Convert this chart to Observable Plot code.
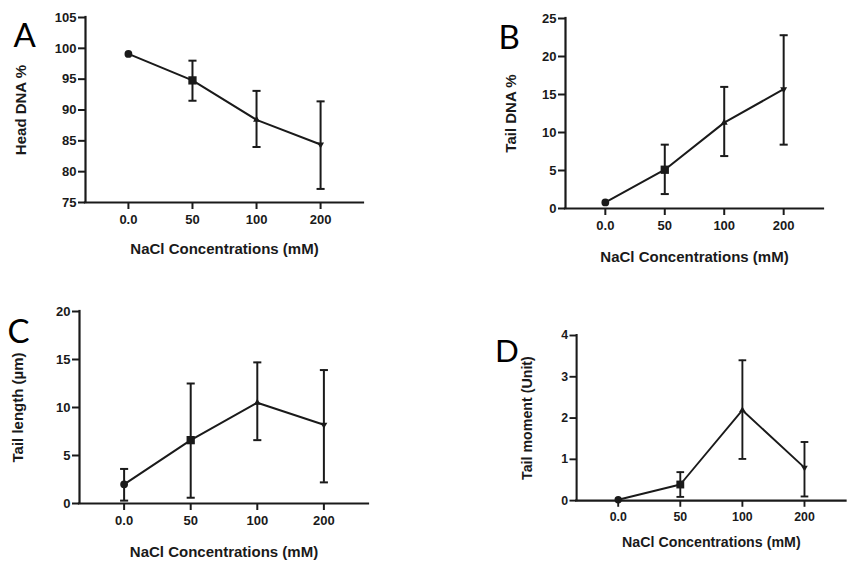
<!DOCTYPE html>
<html><head><meta charset="utf-8">
<script src="https://cdn.jsdelivr.net/npm/d3@7"></script>
<script src="https://cdn.jsdelivr.net/npm/@observablehq/plot@0.6"></script>
<style>
html,body{margin:0;padding:0;background:#fff;}
#fig{position:relative;width:857px;height:562px;overflow:hidden;background:#fff;}
.panel{position:absolute;}
.panel svg{overflow:visible;}
</style></head><body><div id="fig"></div>
<script>
// ---- data ----
const categories = ["0.0", "50", "100", "200"];
const xLabel = "NaCl Concentrations (mM)";

const headDNA     = [99.1, 94.8, 88.4, 84.4];
const headDNALow  = [null, 91.5, 84.0, 77.2];
const headDNAHigh = [null, 98.0, 93.1, 91.4];
const headTicks   = [75, 80, 85, 90, 95, 100, 105];

const tailDNA     = [0.8, 5.1, 11.3, 15.7];
const tailDNALow  = [null, 1.9, 6.9, 8.4];
const tailDNAHigh = [null, 8.4, 16.0, 22.8];
const tailDNATicks = [0, 5, 10, 15, 20, 25];

const tailLength     = [2.0, 6.6, 10.5, 8.2];
const tailLengthLow  = [0.3, 0.6, 6.6, 2.2];
const tailLengthHigh = [3.6, 12.5, 14.7, 13.9];
const tailLengthTicks = [0, 5, 10, 15, 20];

const tailMoment     = [0.02, 0.39, 2.19, 0.80];
const tailMomentLow  = [null, 0.09, 1.01, 0.10];
const tailMomentHigh = [null, 0.69, 3.40, 1.42];
const tailMomentTicks = [0, 1, 2, 3, 4];

// ---- symbols ----
const sq = {draw(ctx, size) { const w = Math.sqrt(size) * 0.6; ctx.rect(-w, -w, 2 * w, 2 * w); }};
const triUp = {draw(ctx, size) { const s = Math.sqrt(size) * 0.58;
  ctx.moveTo(0, -s); ctx.lineTo(s * 0.866, s * 0.5); ctx.lineTo(-s * 0.866, s * 0.5); ctx.closePath(); }};
const triDown = {draw(ctx, size) { const s = Math.sqrt(size) * 0.58;
  ctx.moveTo(0, s); ctx.lineTo(s * 0.866, -s * 0.5); ctx.lineTo(-s * 0.866, -s * 0.5); ctx.closePath(); }};
const cap = {draw(ctx, size) { const w = Math.sqrt(size) * 0.6; ctx.moveTo(-w, 0); ctx.lineTo(w, 0); }};

const ink = "#1a1a1a";
const font = "'Liberation Sans', Arial, sans-serif";
const xDomain = [-0.67, 3.67];

const panels = [
  {letter: "A", yLabel: "Head DNA %", mean: headDNA, low: headDNALow, high: headDNAHigh, ticks: headTicks,
   left: 0, top: 0, width: 430, height: 280, mt: 17, mr: 67, mb: 78, ml: 85, ldx: -72, ldy: 29, ylo: 70, xlo: 51},
  {letter: "B", yLabel: "Tail DNA %", mean: tailDNA, low: tailDNALow, high: tailDNAHigh, ticks: tailDNATicks,
   left: 430, top: 0, width: 427, height: 280, mt: 18, mr: 34, mb: 72, ml: 135, ldx: -67, ldy: 30, ylo: 60, xlo: 53},
  {letter: "C", yLabel: "Tail length (µm)", mean: tailLength, low: tailLengthLow, high: tailLengthHigh, ticks: tailLengthTicks,
   left: 0, top: 280, width: 430, height: 282, mt: 31, mr: 62, mb: 59, ml: 79, ldx: -72, ldy: 31, ylo: 67, xlo: 53},
  {letter: "D", yLabel: "Tail moment (Unit)", mean: tailMoment, low: tailMomentLow, high: tailMomentHigh, ticks: tailMomentTicks,
   left: 430, top: 280, width: 450, height: 282, mt: 58, mr: 12, mb: 50, ml: 154, ldx: -86, ldy: 28, ylo: 58, xlo: 49}
];

const fig = document.getElementById("fig");
for (const p of panels) {
  const rows = categories.map((c, i) => ({i, cat: c, mean: p.mean[i], low: p.low[i], high: p.high[i]}));
  const bars = rows.filter(d => d.low != null);
  const yDomain = [p.ticks[0], p.ticks[p.ticks.length - 1]];
  const chart = Plot.plot({
    width: p.width, height: p.height,
    marginTop: p.mt, marginRight: p.mr, marginBottom: p.mb, marginLeft: p.ml,
    style: {fontFamily: font, fontSize: "13px", fontWeight: "bold", color: ink, background: "transparent", overflow: "visible"},
    x: {domain: xDomain, axis: null},
    y: {domain: yDomain, axis: null},
    symbol: {domain: categories, range: [d3.symbolCircle, sq, triUp, triDown]},
    marks: [
      Plot.axisY({ticks: p.ticks, tickFormat: d => String(d), tickSize: 7, tickPadding: 2, strokeWidth: 2,
                  fontSize: 13, fontWeight: "bold", fontFamily: font, label: null}),
      Plot.axisX({ticks: categories.map((_, i) => i), tickFormat: i => categories[i], tickSize: 7, tickPadding: 5, strokeWidth: 2,
                  fontSize: 13, fontWeight: "bold", fontFamily: font, label: null}),
      Plot.text([p.yLabel], {frameAnchor: "left", dx: -p.ylo, rotate: -90, textAnchor: "middle", lineAnchor: "top",
                             fontSize: 15, fontWeight: "bold", fontFamily: font, fill: "currentColor"}),
      Plot.text([xLabel], {frameAnchor: "bottom", dy: p.xlo, textAnchor: "middle", lineAnchor: "bottom",
                           fontSize: 15, fontWeight: "bold", fontFamily: font, fill: "currentColor"}),
      Plot.ruleY([yDomain[0]], {strokeWidth: 2.2, strokeLinecap: "square"}),
      Plot.ruleX([xDomain[0]], {strokeWidth: 2.2, strokeLinecap: "square"}),
      Plot.ruleX(bars, {x: "i", y1: "low", y2: "high", strokeWidth: 2}),
      Plot.dot(bars, {x: "i", y: "low", symbol: cap, r: 3.8, fill: "none", stroke: "currentColor", strokeWidth: 2}),
      Plot.dot(bars, {x: "i", y: "high", symbol: cap, r: 3.8, fill: "none", stroke: "currentColor", strokeWidth: 2}),
      Plot.line(rows, {x: "i", y: "mean", strokeWidth: 2}),
      Plot.dot(rows, {x: "i", y: "mean", symbol: "cat", r: 3.9, fill: "currentColor", stroke: "none"}),
      Plot.text([p.letter], {frameAnchor: "top-left", dx: p.ldx, dy: p.ldy, textAnchor: "start", lineAnchor: "bottom",
                             fontFamily: "Lato, 'Open Sans', sans-serif", fontWeight: "normal", fontSize: 33, fill: "#000"})
    ]
  });
  const div = document.createElement("div");
  div.className = "panel";
  div.style.left = p.left + "px";
  div.style.top = p.top + "px";
  div.appendChild(chart);
  fig.appendChild(div);
}
</script>
</body></html>
